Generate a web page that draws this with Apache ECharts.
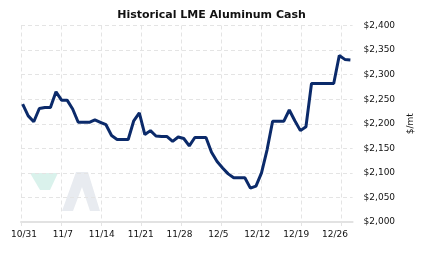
<!DOCTYPE html>
<html>
<head>
<meta charset="utf-8">
<script src="https://cdn.jsdelivr.net/npm/echarts@6/dist/echarts.min.js"></script>
<style>html,body{margin:0;padding:0;background:#fff}#c{width:423px;height:257px}</style>
</head>
<body>
<div id="c"></div>
<script>
// Daily values starting 10/31 (index 0) through 12/29 (index 59)
const startLabel = '10/31';
const tickLabels = ['10/31','11/7','11/14','11/21','11/28','12/5','12/12','12/19','12/26'];
const cashValues = [
  2240, 2216, 2204, 2231, 2233, 2233, 2265, 2248, 2248, 2230,
  2203, 2203, 2203, 2208, 2203, 2198, 2176, 2168, 2168, 2168,
  2206, 2222, 2178, 2186, 2175, 2174, 2174, 2164, 2173, 2170,
  2155, 2172, 2172, 2172, 2142, 2123, 2110, 2098, 2090, 2090,
  2090, 2069, 2073, 2100, 2147, 2205, 2205, 2205, 2228, 2206,
  2186, 2194, 2282, 2282, 2282, 2282, 2282, 2339, 2331, 2330
];
const yTicks = { min: 2000, max: 2400, step: 50 };

const dayOffset = 0.3;
const seriesData = cashValues.map((v, i) => [i + dayOffset, v]);

const chart = echarts.init(document.getElementById('c'), null, {renderer: 'canvas'});
const gridCol = '#e4e4e4';
chart.setOption({
  animation: false,
  title: {
    text: 'Historical LME Aluminum Cash',
    left: 'center', top: 5,
    textStyle: {fontFamily: 'DejaVu Sans', fontWeight: 'bold', fontSize: 11, color: '#111'}
  },
  grid: [
    {left: 21, top: 25.5, width: 341, height: 196.5},
    {left: 21, top: 25.5, width: 320, height: 196.5}
  ],
  xAxis: [
    {
      gridIndex: 0, type: 'value', min: 0, max: 59.7, interval: 7,
      axisLine: {show: true, lineStyle: {color: '#e2e2e2', width: 2}},
      axisTick: {show: false},
      splitLine: {show: false},
      axisLabel: {
        fontFamily: 'DejaVu Sans', fontSize: 9, color: '#111', margin: 8,
        padding: [0, 0, 0, 6],
        formatter: v => (Math.abs(v / 7 - Math.round(v / 7)) < 1e-6 ? (tickLabels[Math.round(v / 7)] || '') : '')
      }
    },
    {
      gridIndex: 1, type: 'value', min: 0, max: 56, interval: 7,
      axisLine: {show: false},
      axisTick: {show: true, length: 4, lineStyle: {color: gridCol, type: 'dashed'}},
      axisLabel: {show: false},
      splitLine: {show: true, lineStyle: {color: gridCol, type: [4, 3]}}
    }
  ],
  yAxis: [
    {
      gridIndex: 0, type: 'value', position: 'right',
      min: yTicks.min, max: yTicks.max, interval: yTicks.step,
      axisLine: {show: false}, axisTick: {show: false},
      splitLine: {show: true, lineStyle: {color: gridCol, type: [4, 3]}},
      axisLabel: {
        fontFamily: 'DejaVu Sans', fontSize: 9, color: '#111', margin: 11,
        formatter: v => '$' + v.toLocaleString('en-US')
      },
      name: '$/mt', nameLocation: 'middle', nameRotate: 90, nameGap: 46,
      nameTextStyle: {fontFamily: 'DejaVu Sans', fontSize: 9, color: '#111'}
    },
    {gridIndex: 1, type: 'value', min: 0, max: 1, show: false}
  ],
  graphic: [
    {type: 'polygon', silent: true, z: 0,
      shape: {points: [[30, 173], [58, 173], [50, 190], [40, 190]]},
      style: {fill: '#daf2ec'}},
    {type: 'polygon', silent: true, z: 0,
      shape: {points: [[62, 211], [76, 172], [88, 172], [100, 211], [90, 211], [82, 187], [73, 211]]},
      style: {fill: '#e8ebf0'}}
  ],
  series: [{
    type: 'line', xAxisIndex: 0, yAxisIndex: 0,
    data: seriesData, showSymbol: false, symbol: 'none',
    lineStyle: {color: '#0b2a6a', width: 3}, z: 5
  }]
});
</script>
</body>
</html>
